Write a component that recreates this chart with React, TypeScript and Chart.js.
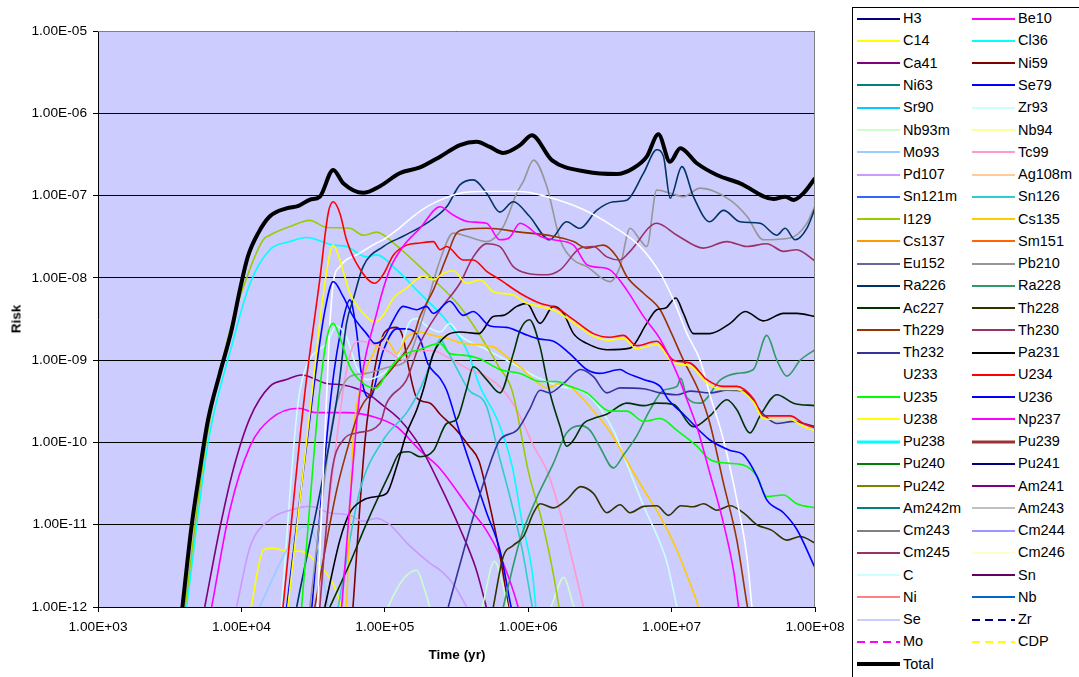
import React, { useEffect, useRef } from "react";
import { Chart, registerables } from "chart.js";

Chart.register(...registerables);

type P = [number, number];

// ---- tick values / labels ----
const xTickValues = [1e3, 1e4, 1e5, 1e6, 1e7, 1e8];
const xTickLabels = ["1.00E+03", "1.00E+04", "1.00E+05", "1.00E+06", "1.00E+07", "1.00E+08"];
const yTickValues = [1e-12, 1e-11, 1e-10, 1e-9, 1e-8, 1e-7, 1e-6, 1e-5];
const yTickLabels = ["1.00E-12", "1.00E-11", "1.00E-10", "1.00E-09", "1.00E-08", "1.00E-07", "1.00E-06", "1.00E-05"];

// ---- series data: [time (yr), risk] ----
const total: P[] = [[3.6e3, 3e-13], [3.88e3, 1e-12], [4.49e3, 9.5e-12], [5.13e3, 4.6e-11], [5.86e3, 1.9e-10], [7.07e3, 6.9e-10], [8.53e3, 2.3e-9], [9.75e3, 7.1e-9], [1.11e4, 1.82e-8], [1.31e4, 3.5e-8], [1.58e4, 5.6e-8], [2.06e4, 7.0e-8], [2.5e4, 7.5e-8], [3.0e4, 8.9e-8], [3.52e4, 9.7e-8], [4.37e4, 2.05e-7], [5.13e4, 1.41e-7], [7.07e4, 1.08e-7], [9.25e4, 1.3e-7], [1.27e5, 1.87e-7], [1.76e5, 2.2e-7], [2.43e5, 2.97e-7], [3.34e5, 4.1e-7], [4.37e5, 4.5e-7], [5.4e5, 3.9e-7], [6.7e5, 3.3e-7], [8.77e5, 4.1e-7], [1.06e6, 5.4e-7], [1.46e6, 2.7e-7], [2.56e6, 1.95e-7], [4.15e6, 1.83e-7], [5.41e6, 2.15e-7], [6.71e6, 2.97e-7], [8.09e6, 5.55e-7], [9.75e6, 2.58e-7], [1.15e7, 3.76e-7], [1.5e7, 2.47e-7], [2.07e7, 1.78e-7], [3.0e7, 1.41e-7], [5.13e7, 9.1e-8], [6.19e7, 9.7e-8], [7.08e7, 8.85e-8], [8.32e7, 1.07e-7], [1e8, 1.62e-7]];

const i129: P[] = [[4.05e3, 1e-12], [5.7e3, 1.07e-10], [8.3e3, 2.3e-9], [1.15e4, 1.3e-8], [1.42e4, 2.9e-8], [1.58e4, 3.3e-8], [2.18e4, 4.2e-8], [3.0e4, 5.0e-8], [3.93e4, 4.1e-8], [5.71e4, 4.0e-8], [7.07e4, 3.3e-8], [8.77e4, 3.6e-8], [1.15e5, 2.65e-8], [2.07e5, 1.04e-8], [3.34e5, 4.5e-9], [4.53e5, 2.1e-9], [6.25e5, 8.3e-10], [7.74e5, 4.2e-10], [1.01e6, 4.2e-11], [1.26e6, 1.04e-11], [1.48e6, 2.8e-12], [1.64e6, 1e-12], [1.8e6, 4e-13]];

const cl36: P[] = [[4.15e3, 1e-12], [5.86e3, 1e-10], [8.57e3, 1.5e-9], [1.15e4, 8.6e-9], [1.58e4, 2.2e-8], [2.18e4, 2.76e-8], [2.84e4, 3.1e-8], [4.37e4, 2.5e-8], [5.4e4, 2.4e-8], [7.46e4, 1.8e-8], [8.77e4, 1.9e-8], [1.21e5, 1.25e-8], [1.67e5, 7.1e-9], [2.7e5, 3.0e-9], [3.72e5, 1.34e-9], [4.61e5, 4.8e-10], [6.25e5, 1.7e-10], [7.74e5, 5.1e-11], [9.1e5, 1.04e-11], [1.07e6, 2.6e-12], [1.13e6, 1e-12], [1.2e6, 4e-13]];

const u234: P[] = [[1.95e4, 1e-12], [2.77e4, 4e-10], [3.52e4, 9.5e-9], [4.03e4, 6.1e-8], [4.37e4, 8.4e-8], [4.86e4, 6.1e-8], [5.41e4, 2.9e-8], [6.35e4, 1.5e-8], [8.53e4, 8.6e-9], [9.75e4, 1.1e-8], [1.15e5, 1.9e-8], [1.42e5, 2.5e-8], [1.76e5, 2.65e-8], [2.18e5, 2.76e-8], [2.43e5, 2.2e-8], [2.7e5, 2.4e-8], [3.52e5, 1.65e-8], [4.14e5, 1.65e-8], [5.13e5, 1.2e-8], [6.35e5, 9.5e-9], [8.77e5, 6.5e-9], [1.21e6, 4.9e-9], [1.58e6, 4.3e-9], [2.07e6, 3.1e-9], [2.85e6, 2.1e-9], [3.72e6, 1.9e-9], [4.61e6, 2e-9], [5.71e6, 1.5e-9], [7.88e6, 1.7e-9], [1.03e7, 1e-9], [1.35e7, 9.2e-10], [1.76e7, 5.8e-10], [2.3e7, 4.8e-10], [2.85e7, 4.8e-10], [3.72e7, 3.4e-10], [4.37e7, 2.1e-10], [5.42e7, 2.1e-10], [6.71e7, 2.1e-10], [8.32e7, 1.7e-10], [1e8, 1.5e-10]];

const u238: P[] = [[2.11e4, 1e-12], [3.08e4, 3.5e-10], [3.71e4, 6e-9], [4.37e4, 2.5e-8], [4.86e4, 1.65e-8], [5.71e4, 6.5e-9], [7.08e4, 3.7e-9], [8.53e4, 2.9e-9], [9.75e4, 3.5e-9], [1.15e5, 5.7e-9], [1.42e5, 7.5e-9], [1.85e5, 1.05e-8], [2.18e5, 9.5e-9], [2.56e5, 1.14e-8], [3.0e5, 1.22e-8], [3.72e5, 8.6e-9], [4.61e5, 9.5e-9], [5.71e5, 6.8e-9], [7.87e5, 6.2e-9], [9.77e5, 4.9e-9], [1.21e6, 4.5e-9], [1.58e6, 3.9e-9], [2.07e6, 2.85e-9], [2.85e6, 1.95e-9], [3.72e6, 1.75e-9], [4.61e6, 1.85e-9], [5.71e6, 1.38e-9], [7.88e6, 1.55e-9], [1.03e7, 9.2e-10], [1.35e7, 8.5e-10], [1.76e7, 5.3e-10], [2.3e7, 4.4e-10], [2.85e7, 4.4e-10], [3.72e7, 3.1e-10], [4.37e7, 1.95e-10], [5.42e7, 1.9e-10], [6.71e7, 1.9e-10], [8.32e7, 1.55e-10], [1e8, 1.38e-10]];

const u233: P[] = [[3.4e4, 1e-12], [4.1e4, 2e-9], [4.37e4, 8.6e-9], [4.86e4, 1.37e-8], [6.7e4, 2e-8], [8.77e4, 2.65e-8], [9.75e4, 2.9e-8], [1.21e5, 3.8e-8], [1.58e5, 5.6e-8], [2.07e5, 7.7e-8], [3.34e5, 1.07e-7], [4.53e5, 1.12e-7], [8.77e5, 1.12e-7], [1.35e6, 9.7e-8], [2.32e6, 7.0e-8], [3.93e6, 4.2e-8], [6.03e6, 2.4e-8], [8.32e6, 1.14e-8], [1.03e7, 5.4e-9], [1.28e7, 2.1e-9], [1.58e7, 1e-9], [1.85e7, 3.8e-10], [2.3e7, 1.07e-10], [2.85e7, 2e-11], [3.35e7, 4.1e-12], [3.63e7, 1e-12], [3.8e7, 4e-13]];

const pb210: P[] = [[3.0e4, 1e-12], [4.26e4, 1.55e-10], [4.86e4, 4e-10], [5.71e4, 6.3e-10], [7.46e4, 6.9e-10], [1.08e5, 8.3e-10], [1.42e5, 1e-9], [1.85e5, 3.4e-9], [2.43e5, 1.65e-8], [3.0e5, 3.5e-8], [3.72e5, 3.2e-8], [5.13e5, 2.76e-8], [6.7e5, 4.2e-8], [8.32e5, 1.07e-7], [9.27e5, 1.5e-7], [1.09e6, 2.7e-7], [1.35e6, 1.28e-7], [1.67e6, 2.9e-8], [2.07e6, 1.65e-8], [2.56e6, 1.37e-8], [3.72e6, 9e-9], [4.37e6, 1.37e-8], [5.13e6, 4e-8], [6.03e6, 2.9e-8], [6.71e6, 2.4e-8], [7.88e6, 1.17e-7], [9.77e6, 1.07e-7], [1.21e7, 9.7e-8], [1.58e7, 1.23e-7], [2.56e7, 8.8e-8], [3.35e7, 5.6e-8], [4.37e7, 2.9e-8], [6.71e7, 3.05e-8], [8.77e7, 4.6e-8], [1e8, 7.5e-8]];

const ra226: P[] = [[2.43e4, 1e-12], [4.73e4, 4.3e-10], [5.41e4, 2.8e-9], [6.01e4, 5.4e-9], [7.06e4, 1.37e-8], [9.75e4, 2.4e-8], [1.34e5, 3.2e-8], [1.95e5, 4.6e-8], [2.7e5, 7.3e-8], [3.34e5, 1.35e-7], [4.14e5, 1.55e-7], [5.13e5, 1.07e-7], [6.35e5, 6.3e-8], [7.87e5, 8.4e-8], [1.02e6, 5.6e-8], [1.41e6, 2.9e-8], [1.85e6, 4.8e-8], [2.29e6, 4e-8], [3.0e6, 6.6e-8], [3.93e6, 8.4e-8], [4.87e6, 8.8e-8], [6.37e6, 1.87e-7], [7.88e6, 3.6e-7], [8.77e6, 3e-7], [9.77e6, 9.3e-8], [1.18e7, 2.25e-7], [1.42e7, 9.7e-8], [1.85e7, 4.8e-8], [2.3e7, 6.6e-8], [3.0e7, 4.8e-8], [4.14e7, 4.6e-8], [5.42e7, 3.3e-8], [6.19e7, 4e-8], [7.27e7, 2.9e-8], [8.77e7, 4e-8], [1e8, 7e-8]];

const th229: P[] = [[3.25e4, 1e-12], [4.61e4, 2.6e-11], [5.71e4, 1.07e-10], [6.7e4, 2.5e-10], [8.3e4, 4.3e-10], [1.15e5, 8.3e-10], [1.58e5, 1.9e-9], [1.76e5, 3.4e-9], [2.18e5, 7.1e-9], [2.7e5, 1.8e-8], [3.17e5, 3.5e-8], [3.72e5, 3.9e-8], [5.13e5, 4e-8], [8.77e5, 3.6e-8], [1.5e6, 3.2e-8], [2.07e6, 2.76e-8], [2.56e6, 2.3e-8], [3.34e6, 2.5e-8], [4.15e6, 1.8e-8], [4.87e6, 1.04e-8], [6.37e6, 6.5e-9], [8.32e6, 4.1e-9], [9.77e6, 2.3e-9], [1.21e7, 1e-9], [1.54e7, 4.3e-10], [1.85e7, 1.7e-10], [2.3e7, 3.2e-11], [2.85e7, 6.5e-12], [3.35e7, 1.1e-12], [3.5e7, 7e-13]];

const np237: P[] = [[5.0e4, 1e-12], [6.7e4, 4e-10], [8.77e4, 3.7e-9], [1.08e5, 1.25e-8], [1.34e5, 2.4e-8], [1.76e5, 4e-8], [2.43e5, 7.3e-8], [3.0e5, 5.8e-8], [3.87e5, 4.8e-8], [5.13e5, 4.6e-8], [6.35e5, 2.9e-8], [7.35e5, 3.05e-8], [8.77e5, 4.6e-8], [1.21e6, 3.2e-8], [1.5e6, 2.9e-8], [2.07e6, 2.5e-8], [2.56e6, 1.45e-8], [3.0e6, 1.35e-8], [3.72e6, 1.25e-8], [4.87e6, 7.1e-9], [6.37e6, 3.4e-9], [8.32e6, 1.8e-9], [1.09e7, 6.9e-10], [1.28e7, 3.3e-10], [1.5e7, 1.55e-10], [1.85e7, 4.2e-11], [2.3e7, 1.04e-11], [2.7e7, 2.8e-12], [2.93e7, 1e-12], [3.1e7, 4e-13]];

const th230: P[] = [[3.52e4, 1e-12], [4.26e4, 4.2e-11], [5.13e4, 1.07e-10], [6.35e4, 1.3e-10], [9.25e4, 1.7e-10], [1.03e5, 3e-10], [1.42e5, 5.8e-10], [1.76e5, 1.6e-9], [2.43e5, 4.1e-9], [3.34e5, 8.6e-9], [4.14e5, 1.8e-8], [5.13e5, 2.6e-8], [6.35e5, 2.4e-8], [7.87e5, 1.37e-8], [9.77e5, 1.14e-8], [1.35e6, 1.09e-8], [1.67e6, 1.25e-8], [2.32e6, 2.3e-8], [2.85e6, 2.4e-8], [3.53e6, 1.8e-8], [4.37e6, 1.65e-8], [5.13e6, 2.1e-8], [7.88e6, 4.6e-8], [1.09e7, 3.3e-8], [1.67e7, 2.3e-8], [2.43e7, 2.76e-8], [3.35e7, 2.4e-8], [4.61e7, 2.6e-8], [6.03e7, 2.1e-8], [7.46e7, 2.2e-8], [1e8, 1.6e-8]];

const sn126: P[] = [[4.73e4, 1e-12], [6.7e4, 2.6e-11], [9.75e4, 1.07e-10], [1.47e5, 2.5e-10], [1.9e5, 6e-10], [2.18e5, 1.2e-9], [2.43e5, 1.8e-9], [2.7e5, 1.35e-9], [3.17e5, 8e-10], [3.87e5, 4.3e-10], [5.1e5, 2.8e-10], [6.25e5, 7e-11], [7.74e5, 1.7e-11], [9.1e5, 4.9e-12], [1.07e6, 1e-12], [1.2e6, 4e-13]];

const se79: P[] = [[3.1e4, 1e-12], [4.26e4, 4.3e-10], [5.1e4, 3e-9], [5.71e4, 5.4e-9], [6.3e4, 2.5e-9], [7.03e4, 5e-10], [7.87e4, 3.5e-10], [9.75e4, 1.3e-9], [1.21e5, 2.4e-9], [1.42e5, 2.4e-9], [1.76e5, 1.8e-9], [2.0e5, 9e-10], [2.43e5, 6e-10], [2.7e5, 4.3e-10], [3.34e5, 1.3e-10], [4.14e5, 4.2e-11], [5.13e5, 1.4e-11], [6.35e5, 4.9e-12], [7.6e5, 1e-12], [8.5e5, 4e-13]];

const u236: P[] = [[2.07e4, 1e-12], [3.16e4, 4e-10], [3.82e4, 4e-9], [4.37e4, 9e-9], [5.13e4, 5.9e-9], [6.01e4, 3.4e-9], [7.46e4, 2.1e-9], [8.53e4, 1.6e-9], [9.75e4, 1.8e-9], [1.15e5, 3.1e-9], [1.34e5, 4.5e-9], [1.67e5, 4.1e-9], [1.95e5, 4.5e-9], [2.18e5, 3.7e-9], [2.84e5, 5.2e-9], [3.52e5, 3.5e-9], [4.14e5, 3.9e-9], [5.41e5, 2.6e-9], [7.08e5, 2.5e-9], [9.25e5, 2.1e-9], [1.21e6, 1.8e-9], [1.5e6, 1.7e-9], [1.95e6, 1.2e-9], [2.56e6, 7.7e-10], [3.16e6, 6.9e-10], [4.37e6, 7.7e-10], [4.87e6, 7e-10], [6.37e6, 5.8e-10], [8.32e6, 4.8e-10], [9.5e6, 3.3e-10], [1.21e7, 2.2e-10], [1.85e7, 1.07e-10], [2.56e7, 8e-11], [3.16e7, 7.1e-11], [3.93e7, 3.9e-11], [4.61e7, 2e-11], [6.03e7, 1.4e-11], [7.46e7, 8.8e-12], [1e8, 3e-12]];

const ni59: P[] = [[6.0e4, 1e-12], [7.26e4, 1e-10], [8.53e4, 8e-10], [1.0e5, 2.2e-9], [1.21e5, 2.5e-9], [1.34e5, 1.9e-9], [1.47e5, 8e-10], [1.67e5, 3.5e-10], [2.07e5, 3e-10], [2.43e5, 2.2e-10], [3.17e5, 1.4e-10], [3.87e5, 9e-11], [4.53e5, 6e-11], [5.29e5, 2e-11], [6.25e5, 5e-12], [7.3e5, 1e-12], [8e5, 4e-13]];

const pa231: P[] = [[3.82e4, 1e-12], [4.86e4, 6.5e-12], [5.71e4, 1.4e-11], [7.08e4, 2e-11], [8.77e4, 2.2e-11], [1.03e5, 2.4e-11], [1.21e5, 5.1e-11], [1.42e5, 1.3e-10], [1.67e5, 2.5e-10], [1.85e5, 4.3e-10], [2.18e5, 1.2e-9], [2.7e5, 2e-9], [3.34e5, 2.2e-9], [4.53e5, 2.1e-9], [5.71e5, 3.4e-9], [6.7e5, 3.5e-9], [8.32e5, 4.5e-9], [9.77e5, 4.9e-9], [1.21e6, 2.8e-9], [1.5e6, 4.5e-9], [1.76e6, 3.7e-9], [2.07e6, 2.1e-9], [2.56e6, 1.6e-9], [3.53e6, 1.34e-9], [5.13e6, 1.4e-9], [6.71e6, 2.8e-9], [7.88e6, 4.1e-9], [9.08e6, 4.3e-9], [1.07e7, 5.7e-9], [1.21e7, 3.7e-9], [1.42e7, 2.1e-9], [1.85e7, 2.1e-9], [2.56e7, 2.8e-9], [3.26e7, 3.9e-9], [4.37e7, 3e-9], [6.03e7, 3.7e-9], [7.46e7, 3.7e-9], [1e8, 3.4e-9]];

const ac227: P[] = [[4.14e4, 1e-12], [5.71e4, 3.4e-12], [7.46e4, 1.04e-11], [1.08e5, 4.2e-11], [1.27e5, 7.4e-11], [1.47e5, 7.7e-11], [1.76e5, 6.7e-11], [2.18e5, 7.9e-11], [2.7e5, 1.7e-10], [3.17e5, 1.9e-10], [3.72e5, 4.5e-10], [4.14e5, 8.3e-10], [5.13e5, 5.8e-10], [6.35e5, 4e-10], [7.87e5, 1.2e-9], [8.77e5, 2.3e-9], [1.02e6, 3.1e-9], [1.21e6, 1.45e-9], [1.35e6, 5.8e-10], [1.46e6, 3.3e-10], [1.67e6, 1.55e-10], [1.85e6, 9e-11], [2.07e6, 1.07e-10], [2.43e6, 1.7e-10], [2.85e6, 1.95e-10], [3.53e6, 2.2e-10], [4.87e6, 3e-10], [6.37e6, 2.8e-10], [7.88e6, 3e-10], [1.03e7, 2.9e-10], [1.42e7, 1.55e-10], [1.85e7, 2.1e-10], [2.43e7, 3.3e-10], [2.85e7, 2.5e-10], [3.52e7, 1.3e-10], [4.14e7, 2.1e-10], [5.42e7, 3.8e-10], [7.08e7, 3e-10], [1e8, 2.8e-10]];

const th228: P[] = [[5.71e5, 1e-12], [6.7e5, 4.1e-12], [7.87e5, 5.6e-12], [9.27e5, 7.2e-12], [1.09e6, 1.4e-11], [1.21e6, 1.8e-11], [1.5e6, 1.6e-11], [1.85e6, 2e-11], [2.32e6, 2.9e-11], [2.85e6, 2.4e-11], [3.53e6, 1.4e-11], [4.37e6, 1.75e-11], [5.13e6, 1.4e-11], [6.37e6, 1.67e-11], [7.88e6, 1.7e-11], [9.5e6, 1.3e-11], [1.16e7, 1.7e-11], [1.42e7, 1.65e-11], [1.67e7, 1.8e-11], [2.07e7, 1.5e-11], [2.56e7, 1.7e-11], [3.16e7, 1.4e-11], [3.93e7, 1e-11], [4.97e7, 8.6e-12], [6.37e7, 6.5e-12], [7.9e7, 7.2e-12], [1e8, 6e-12]];

const ra228: P[] = [[6.7e5, 1e-12], [8.77e5, 6.5e-12], [1.13e6, 2e-11], [1.5e6, 5.6e-11], [1.85e6, 1.3e-10], [2.32e6, 1.6e-10], [2.7e6, 1.4e-10], [3.16e6, 8.8e-11], [3.93e6, 4.9e-11], [4.61e6, 7e-11], [5.71e6, 1.2e-10], [7.08e6, 2.5e-10], [8.77e6, 4.3e-10], [1.09e7, 4.8e-10], [1.16e7, 6e-10], [1.28e7, 3.5e-10], [1.58e7, 3e-10], [2.2e7, 5.8e-10], [2.85e7, 6.9e-10], [3.72e7, 7.7e-10], [4.61e7, 2e-9], [5.42e7, 1e-9], [6.37e7, 6.4e-10], [7.9e7, 1e-9], [1e8, 1.34e-9]];

const th232: P[] = [[2.77e5, 1e-12], [4.14e5, 1.25e-11], [5.13e5, 4.2e-11], [6.35e5, 1.07e-10], [8.32e5, 1.4e-10], [1.02e6, 2.5e-10], [1.21e6, 4.3e-10], [1.41e6, 4e-10], [1.76e6, 5.2e-10], [2.32e6, 7.7e-10], [2.85e6, 6.3e-10], [3.53e6, 4e-10], [4.37e6, 4.6e-10], [6.37e6, 4.5e-10], [8.32e6, 4e-10], [1.09e7, 3.8e-10], [1.35e7, 4.2e-10], [1.85e7, 4e-10], [2.43e7, 4.3e-10], [3.16e7, 4.2e-10], [4.37e7, 2.2e-10], [5.42e7, 1.7e-10], [7.08e7, 1.8e-10], [8.32e7, 1.7e-10], [1e8, 1.55e-10]];

const u235: P[] = [[2.63e4, 1e-12], [3.52e4, 4.3e-10], [3.93e4, 1.8e-9], [4.37e4, 2.8e-9], [4.86e4, 1.9e-9], [5.71e4, 8.3e-10], [7.08e4, 5.2e-10], [8.77e4, 4.6e-10], [1.03e5, 6.9e-10], [1.21e5, 1e-9], [1.42e5, 1.2e-9], [1.76e5, 1.35e-9], [2.43e5, 1.6e-9], [2.84e5, 1.2e-9], [3.52e5, 1.15e-9], [4.53e5, 1.05e-9], [6.35e5, 7.7e-10], [8.77e5, 6.9e-10], [1.21e6, 5.5e-10], [1.58e6, 5.5e-10], [1.95e6, 4.8e-10], [2.56e6, 4e-10], [3.72e6, 2.4e-10], [4.87e6, 2.4e-10], [6.37e6, 1.8e-10], [8.32e6, 1.95e-10], [1.09e7, 1.4e-10], [1.5e7, 9e-11], [1.85e7, 6.2e-11], [2.43e7, 5.6e-11], [3.16e7, 5.3e-11], [3.93e7, 3.9e-11], [4.61e7, 2.2e-11], [6.03e7, 2.3e-11], [7.46e7, 1.8e-11], [1e8, 1.6e-11]];

const cs135: P[] = [[5.41e4, 1e-12], [6.01e4, 1.07e-10], [6.7e4, 4.3e-10], [8.3e4, 1.2e-9], [9.75e4, 1.9e-9], [1.08e5, 1.6e-9], [1.21e5, 1.2e-9], [1.42e5, 1.9e-9], [1.76e5, 2.2e-9], [2.18e5, 2e-9], [2.7e5, 1.85e-9], [3.52e5, 1.6e-9], [5.71e5, 1.45e-9], [7.08e5, 1.1e-9], [8.77e5, 8.3e-10], [1.09e6, 5.8e-10], [1.35e6, 4.6e-10], [1.67e6, 5.2e-10], [1.95e6, 4.8e-10], [2.56e6, 3e-10], [3.72e6, 1.35e-10], [5.13e6, 5.1e-11], [6.37e6, 2.7e-11], [8.32e6, 1.26e-11], [1.09e7, 4.9e-12], [1.35e7, 1.9e-12], [1.54e7, 1e-12], [1.7e7, 5e-13]];

const zr93: P[] = [[1.9e4, 1e-12], [2.56e4, 4.3e-10], [3.93e4, 1.6e-9], [4.61e4, 2.6e-9], [5.41e4, 1.9e-9], [6.35e4, 8.3e-10], [7.46e4, 5.8e-10], [9.75e4, 6.9e-10], [1.21e5, 1e-9], [1.47e5, 2.8e-9], [1.67e5, 3.2e-9], [1.95e5, 2.6e-9], [2.43e5, 2.2e-9], [2.84e5, 2.8e-9], [3.34e5, 2e-9], [5.13e5, 1.34e-9], [7.87e5, 9e-10], [1.13e6, 6.3e-10], [1.67e6, 4.8e-10], [2.56e6, 3.9e-10], [3.93e6, 1.4e-10], [4.87e6, 5.5e-11], [6.37e6, 1.7e-11], [8.32e6, 6e-12], [9.27e6, 3.5e-12], [1.09e7, 1e-12], [1.2e7, 5e-13]];

const tc99: P[] = [[3.41e4, 1e-12], [5.13e4, 4.3e-10], [6.01e4, 1.5e-9], [6.7e4, 1.7e-9], [8.77e4, 1.5e-9], [1.08e5, 1.25e-9], [1.34e5, 1e-9], [1.76e5, 1.3e-9], [2.18e5, 1.3e-9], [2.7e5, 1.1e-9], [3.87e5, 7.7e-10], [5.13e5, 6.3e-10], [6.7e5, 4.3e-10], [8.77e5, 2.1e-10], [1.09e6, 9e-11], [1.35e6, 4.6e-11], [1.58e6, 2e-11], [1.85e6, 7.2e-12], [2.17e6, 2.3e-12], [2.43e6, 1e-12], [2.7e6, 5e-13]];

const ca41: P[] = [[5.55e3, 1e-12], [7.07e3, 9e-12], [8.75e3, 4.6e-11], [1.15e4, 2e-10], [1.58e4, 4.8e-10], [2.06e4, 5.8e-10], [2.63e4, 6.6e-10], [3.93e4, 5.2e-10], [5.13e4, 5e-10], [7.46e4, 4e-10], [9.75e4, 2.8e-10], [1.27e5, 1.9e-10], [1.76e5, 9e-11], [2.43e5, 3e-11], [3.34e5, 9e-12], [4.3e5, 3e-12], [5.1e5, 1e-12], [5.6e5, 5e-13]];

const be10: P[] = [[6.2e3, 1e-12], [8.3e3, 1.5e-11], [1.15e4, 9e-11], [1.58e4, 1.9e-10], [2.5e4, 2.6e-10], [3.34e4, 2.3e-10], [5.4e4, 2.3e-10], [8.77e4, 2.0e-10], [1.21e5, 1.55e-10], [1.76e5, 8e-11], [2.43e5, 4.8e-11], [3.87e5, 1.6e-11], [5.1e5, 8.6e-12], [6.25e5, 4.5e-12], [7.3e5, 2.3e-12], [8.5e5, 1e-12], [9.3e5, 5e-13]];

const pd107: P[] = [[9.25e3, 1e-12], [1.15e4, 5.4e-12], [1.58e4, 1.15e-11], [2.18e4, 1.5e-11], [3.0e4, 1.67e-11], [4.1e4, 1.4e-11], [5.71e4, 1.3e-11], [7.08e4, 1.1e-11], [8.77e4, 1.2e-11], [1.08e5, 1e-11], [1.47e5, 5.7e-12], [2.07e5, 3.4e-12], [2.43e5, 2.8e-12], [3.0e5, 1.9e-12], [3.72e5, 1e-12], [4.3e5, 6e-13]];

const c14: P[] = [[1.17e4, 1e-12], [1.42e4, 4.9e-12], [1.66e4, 5.2e-12], [2.18e4, 4.7e-12], [2.56e4, 4.8e-12], [3.34e4, 3.5e-12], [4.37e4, 1.9e-12], [5.0e4, 1e-12], [5.5e4, 6e-13]];

const mo93: P[] = [[1.34e4, 1e-12], [1.76e4, 2.8e-12], [2.18e4, 5.8e-12], [2.7e4, 9.5e-12], [3.16e4, 8e-12], [3.64e4, 3e-12], [4.0e4, 1e-12], [4.3e4, 5e-13]];

const nb93m: P[] = [[9.0e4, 5e-13], [1.08e5, 1.1e-12], [1.35e5, 2.2e-12], [1.67e5, 2.8e-12], [1.9e5, 1.6e-12], [2.2e5, 7e-13], [3.2e5, 3e-13], [4.3e5, 5e-13], [4.9e5, 1.2e-12], [5.8e5, 3.6e-12], [6.6e5, 2e-12], [7.4e5, 8e-13], [1.0e6, 3e-13], [1.3e6, 6e-13], [1.5e6, 1.2e-12], [1.77e6, 2.3e-12], [2.05e6, 1.1e-12], [2.4e6, 5e-13]];

const none: P[] = [];

// ---- series table (legend order, row by row) ----
interface SeriesDef { name: string; color: string; data: P[]; dash?: number[]; width?: number; legendWidth?: number }
const series: SeriesDef[] = [
  { name: "H3", color: "#000080", data: none },
  { name: "Be10", color: "#FF00FF", data: be10 },
  { name: "C14", color: "#FFFF00", data: c14 },
  { name: "Cl36", color: "#00FFFF", data: cl36 },
  { name: "Ca41", color: "#800080", data: ca41 },
  { name: "Ni59", color: "#800000", data: ni59 },
  { name: "Ni63", color: "#008080", data: none },
  { name: "Se79", color: "#0000FF", data: se79 },
  { name: "Sr90", color: "#00CCFF", data: none },
  { name: "Zr93", color: "#CCFFFF", data: zr93 },
  { name: "Nb93m", color: "#CCFFCC", data: nb93m },
  { name: "Nb94", color: "#FFFF99", data: none },
  { name: "Mo93", color: "#99CCFF", data: mo93 },
  { name: "Tc99", color: "#FF99CC", data: tc99 },
  { name: "Pd107", color: "#CC99FF", data: pd107 },
  { name: "Ag108m", color: "#FFCC99", data: none },
  { name: "Sn121m", color: "#3366FF", data: none },
  { name: "Sn126", color: "#33CCCC", data: sn126 },
  { name: "I129", color: "#99CC00", data: i129 },
  { name: "Cs135", color: "#FFCC00", data: cs135 },
  { name: "Cs137", color: "#FF9900", data: none },
  { name: "Sm151", color: "#FF6600", data: none },
  { name: "Eu152", color: "#666699", data: none },
  { name: "Pb210", color: "#969696", data: pb210 },
  { name: "Ra226", color: "#003366", data: ra226 },
  { name: "Ra228", color: "#339966", data: ra228 },
  { name: "Ac227", color: "#003300", data: ac227 },
  { name: "Th228", color: "#333300", data: th228 },
  { name: "Th229", color: "#993300", data: th229 },
  { name: "Th230", color: "#993366", data: th230 },
  { name: "Th232", color: "#333399", data: th232 },
  { name: "Pa231", color: "#000000", data: pa231 },
  { name: "U233", color: "#FFFFFF", data: u233 },
  { name: "U234", color: "#FF0000", data: u234 },
  { name: "U235", color: "#00FF00", data: u235 },
  { name: "U236", color: "#0000FF", data: u236 },
  { name: "U238", color: "#FFFF00", data: u238 },
  { name: "Np237", color: "#FF00FF", data: np237 },
  { name: "Pu238", color: "#00FFFF", data: none, legendWidth: 3 },
  { name: "Pu239", color: "#993333", data: none, legendWidth: 3 },
  { name: "Pu240", color: "#008000", data: none },
  { name: "Pu241", color: "#000080", data: none },
  { name: "Pu242", color: "#808000", data: none },
  { name: "Am241", color: "#800080", data: none },
  { name: "Am242m", color: "#008080", data: none },
  { name: "Am243", color: "#C0C0C0", data: none },
  { name: "Cm243", color: "#808080", data: none },
  { name: "Cm244", color: "#9999FF", data: none },
  { name: "Cm245", color: "#993366", data: none },
  { name: "Cm246", color: "#FFFFCC", data: none },
  { name: "C", color: "#CCFFFF", data: none },
  { name: "Sn", color: "#660066", data: none },
  { name: "Ni", color: "#FF8080", data: none },
  { name: "Nb", color: "#0066CC", data: none },
  { name: "Se", color: "#CCCCFF", data: none },
  { name: "Zr", color: "#000080", data: none, dash: [8, 5] },
  { name: "Mo", color: "#FF00FF", data: none, dash: [8, 5] },
  { name: "CDP", color: "#FFFF00", data: none, dash: [8, 5] },
  { name: "Total", color: "#000000", data: total, width: 4, legendWidth: 4 },
];

// ---- layout constants ----
const W = 1079, H = 677;
const LEFT = 98, TOP = 31, RIGHT = 815, BOTTOM = 607;
const FONT = '"Liberation Sans", Arial, Helvetica, sans-serif';
const PLOT_BG = "#CCCCFF";

const bgPlugin = {
  id: "plotBg",
  beforeDraw(chart: any) {
    const { ctx, chartArea: a } = chart;
    ctx.save();
    ctx.fillStyle = PLOT_BG;
    ctx.fillRect(a.left, a.top, a.right - a.left, a.bottom - a.top);
    ctx.restore();
  },
  afterDraw(chart: any) {
    const { ctx, chartArea: a } = chart;
    ctx.save();
    ctx.strokeStyle = "#808080";
    ctx.lineWidth = 1;
    ctx.beginPath();
    ctx.moveTo(a.left, a.top + 0.5);
    ctx.lineTo(a.right - 0.5, a.top + 0.5);
    ctx.lineTo(a.right - 0.5, a.bottom);
    ctx.stroke();
    ctx.restore();
  },
};

function ChartCanvas() {
  const ref = useRef<HTMLCanvasElement | null>(null);
  useEffect(() => {
    if (!ref.current) return;
    const n = series.length;
    const datasets = series.map((s, i) => ({
      label: s.name,
      data: s.data.map(([x, y]) => ({ x, y })),
      borderColor: s.color,
      backgroundColor: s.color,
      borderWidth: s.width ?? 1.6,
      borderDash: s.dash ?? [],
      pointRadius: 0,
      pointHoverRadius: 0,
      fill: false,
      cubicInterpolationMode: "monotone" as const,
      clip: 0,
      order: n - i,
    }));
    const chart = new Chart(ref.current, {
      type: "line",
      data: { datasets },
      plugins: [bgPlugin],
      options: {
        animation: false,
        responsive: false,
        maintainAspectRatio: false,
        events: [],
        layout: { padding: { left: 0, top: TOP, right: W - RIGHT, bottom: 0 } },
        plugins: { legend: { display: false }, tooltip: { enabled: false }, title: { display: false } },
        scales: {
          x: {
            type: "logarithmic",
            min: 1e3,
            max: 1e8,
            afterBuildTicks: (s: any) => { s.ticks = xTickValues.map((v) => ({ value: v })); },
            afterFit: (s: any) => { s.height = H - BOTTOM; s.paddingLeft = 0; s.paddingRight = 0; },
            ticks: {
              autoSkip: false,
              maxRotation: 0,
              minRotation: 0,
              padding: 7,
              color: "#000",
              font: { family: FONT, size: 13.7 },
              callback: (v: any) => { const i = xTickValues.indexOf(Number(v)); return i >= 0 ? xTickLabels[i] : ""; },
            },
            grid: { drawOnChartArea: false, drawTicks: true, tickLength: 5, color: "#000", tickColor: "#000", lineWidth: 1 },
            border: { display: true, color: "#000", width: 1 },
          },
          y: {
            type: "logarithmic",
            min: 1e-12,
            max: 1e-5,
            afterBuildTicks: (s: any) => { s.ticks = yTickValues.map((v) => ({ value: v })); },
            afterFit: (s: any) => { s.width = LEFT; s.paddingTop = 0; s.paddingBottom = 0; },
            ticks: {
              autoSkip: false,
              padding: 6,
              color: "#000",
              font: { family: FONT, size: 13.7 },
              callback: (v: any) => {
                const lv = Math.round(Math.log10(Number(v)));
                const i = yTickValues.findIndex((t) => Math.round(Math.log10(t)) === lv);
                return i >= 0 ? yTickLabels[i] : "";
              },
            },
            grid: { drawOnChartArea: true, drawTicks: true, tickLength: 5, color: "#000", tickColor: "#000", lineWidth: 1 },
            border: { display: true, color: "#000", width: 1 },
          },
        },
      } as any,
    });
    return () => chart.destroy();
  }, []);
  return <canvas ref={ref} width={W} height={H} style={{ position: "absolute", left: 0, top: 0, width: W, height: H }} />;
}

function Legend() {
  const rowY0 = 18.7;
  const rowH = 22.26;
  const cols = [
    { lineX: 857, lineW: 43, textX: 903 },
    { lineX: 972, lineW: 43, textX: 1018 },
  ];
  return (
    <>
      <div style={{ position: "absolute", left: 852, top: 7, width: 300, height: 700, borderLeft: "1px solid #000", borderTop: "1px solid #000", background: "#fff", boxSizing: "border-box" }} />
      {series.map((s, i) => {
        const row = Math.floor(i / 2);
        const col = cols[i % 2];
        const yc = rowY0 + row * rowH;
        const lw = s.legendWidth ?? 2;
        return (
          <React.Fragment key={s.name}>
            <svg style={{ position: "absolute", left: col.lineX, top: yc - 5 }} width={col.lineW} height={10}>
              <line x1={0} y1={5} x2={col.lineW} y2={5} stroke={s.color} strokeWidth={lw} strokeDasharray={s.dash ? s.dash.join(",") : undefined} />
            </svg>
            <div style={{ position: "absolute", left: col.textX, top: yc - 8.5, height: 17, lineHeight: "17px", fontFamily: FONT, fontSize: 14.5, color: "#000", whiteSpace: "nowrap" }}>{s.name}</div>
          </React.Fragment>
        );
      })}
    </>
  );
}

export default function App() {
  return (
    <div style={{ position: "absolute", left: 0, top: 0, width: W, height: H, overflow: "hidden", background: "#fff" }}>
      <ChartCanvas />
      <div style={{ position: "absolute", left: 16, top: 319, transform: "translate(-50%, -50%) rotate(-90deg)", fontFamily: FONT, fontWeight: "bold", fontSize: 13.5, color: "#000", whiteSpace: "nowrap" }}>Risk</div>
      <div style={{ position: "absolute", left: 457, top: 654, transform: "translate(-50%, -50%)", fontFamily: FONT, fontWeight: "bold", fontSize: 13.5, color: "#000", whiteSpace: "nowrap" }}>Time (yr)</div>
      <Legend />
    </div>
  );
}
